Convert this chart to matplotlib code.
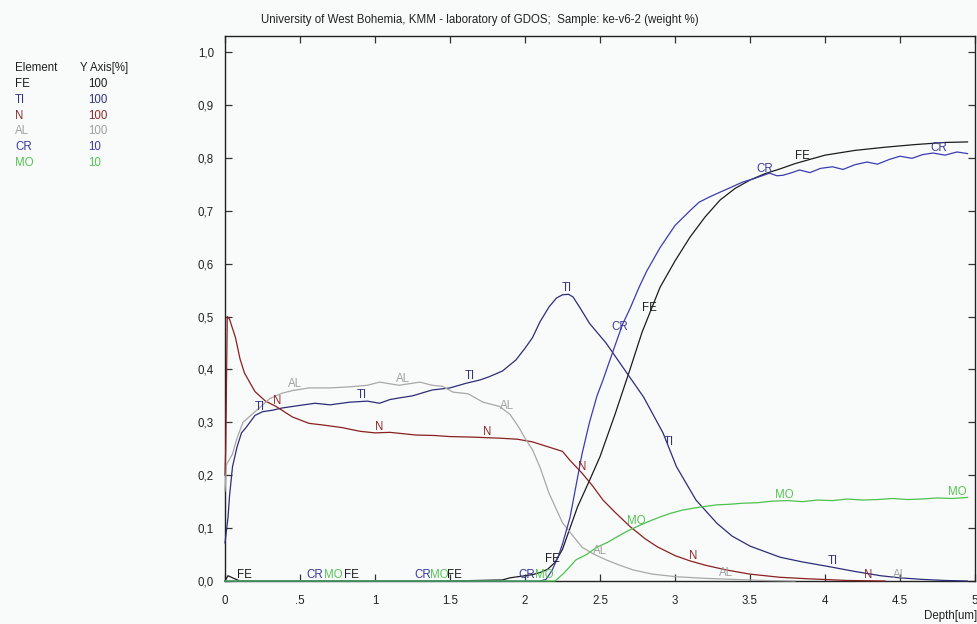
import numpy as np
import matplotlib
matplotlib.use("Agg")
import matplotlib.pyplot as plt

plt.rcParams['font.family'] = ['Liberation Sans', 'DejaVu Sans']

# ---------------- data ----------------
title = "University of West Bohemia, KMM - laboratory of GDOS;  Sample: ke-v6-2 (weight %)"
elements = ["FE", "TI", "N", "AL", "CR", "MO"]
yaxis_pct = ["100", "100", "100", "100", "10", "10"]

fe_x = [0, 0.02, 0.05, 0.1, 0.5, 1.0, 1.5, 1.85, 1.9, 2.0, 2.05, 2.1, 2.15, 2.2, 2.25, 2.3, 2.35, 2.43,
        2.5, 2.6, 2.7, 2.78, 2.9, 3.0, 3.1, 3.2, 3.3, 3.4, 3.5, 3.6, 3.7, 3.8, 3.9, 4.0, 4.2, 4.4,
        4.6, 4.8, 4.95]
fe_y = [0, 0.01, 0.006, 0, 0, 0, 0, 0.002, 0.006, 0.01, 0.012, 0.016, 0.022, 0.035, 0.06, 0.10, 0.14,
        0.19, 0.235, 0.315, 0.40, 0.47, 0.555, 0.605, 0.65, 0.688, 0.72, 0.742, 0.758, 0.77, 0.779,
        0.789, 0.797, 0.805, 0.814, 0.82, 0.825, 0.829, 0.830]

ti_x = [0, 0.02, 0.03, 0.05, 0.08, 0.11, 0.14, 0.2, 0.25, 0.32, 0.38, 0.5, 0.6, 0.7, 0.83, 0.95, 1.03,
        1.1, 1.16, 1.25, 1.38, 1.5, 1.61, 1.7, 1.76, 1.85, 1.94, 2.0, 2.05, 2.1, 2.16, 2.21, 2.25,
        2.29, 2.32, 2.37, 2.43, 2.54, 2.65, 2.79, 2.92, 3.01, 3.14, 3.28, 3.38, 3.5, 3.7, 3.85, 4.03,
        4.2, 4.37, 4.5, 4.65, 4.8, 4.95]
ti_y = [0.072, 0.12, 0.16, 0.216, 0.253, 0.28, 0.29, 0.313, 0.32, 0.323, 0.327, 0.332, 0.336, 0.333,
        0.338, 0.34, 0.336, 0.343, 0.346, 0.35, 0.361, 0.365, 0.374, 0.38, 0.386, 0.397, 0.418, 0.44,
        0.46, 0.49, 0.518, 0.535, 0.541, 0.542, 0.537, 0.515, 0.487, 0.45, 0.405, 0.348, 0.28, 0.216,
        0.153, 0.109, 0.085, 0.066, 0.045, 0.036, 0.027, 0.018, 0.01, 0.006, 0.003, 0.001, 0.0]

n_x = [0, 0.005, 0.015, 0.03, 0.07, 0.1, 0.13, 0.2, 0.27, 0.34, 0.45, 0.56, 0.65, 0.78, 0.9, 1.0, 1.1,
       1.27, 1.4, 1.5, 1.65, 1.83, 1.95, 2.05, 2.15, 2.25, 2.3, 2.38, 2.45, 2.52, 2.6, 2.7, 2.8, 2.88,
       3.0, 3.1, 3.2, 3.34, 3.5, 3.7, 3.9, 4.15, 4.4]
n_y = [0.2, 0.25, 0.5, 0.495, 0.46, 0.42, 0.393, 0.358, 0.34, 0.33, 0.31, 0.298, 0.295, 0.29, 0.283,
       0.28, 0.281, 0.276, 0.275, 0.273, 0.272, 0.27, 0.268, 0.263, 0.254, 0.245, 0.228, 0.204, 0.18,
       0.153, 0.13, 0.103, 0.08, 0.065, 0.048, 0.038, 0.03, 0.021, 0.013, 0.007, 0.004, 0.001, 0.0]

al_x = [0, 0.01, 0.03, 0.05, 0.08, 0.12, 0.2, 0.3, 0.38, 0.45, 0.56, 0.7, 0.83, 0.95, 1.03, 1.16, 1.3,
        1.38, 1.45, 1.52, 1.62, 1.72, 1.83, 1.9, 1.96, 2.0, 2.05, 2.1, 2.16, 2.25, 2.32, 2.38, 2.45,
        2.54, 2.63, 2.72, 2.85, 3.01, 3.2, 3.4, 3.6, 3.8]
al_y = [0.17, 0.22, 0.23, 0.24, 0.27, 0.3, 0.32, 0.345, 0.355, 0.36, 0.365, 0.365, 0.367, 0.37, 0.376,
        0.37, 0.376, 0.37, 0.368, 0.357, 0.354, 0.338, 0.33, 0.315, 0.29, 0.27, 0.248, 0.215, 0.166,
        0.11, 0.085, 0.064, 0.052, 0.04, 0.03, 0.021, 0.013, 0.008, 0.005, 0.003, 0.001, 0.0]

cr_x = [0, 2.1, 2.14, 2.18, 2.22, 2.25, 2.3, 2.34, 2.38, 2.43, 2.48, 2.52, 2.59, 2.65, 2.70, 2.76,
        2.81, 2.9, 3.0, 3.1, 3.16, 3.23, 3.3, 3.38, 3.45, 3.52, 3.58, 3.63, 3.68, 3.72, 3.78, 3.83,
        3.9, 3.97, 4.05, 4.12, 4.2, 4.28, 4.35, 4.43, 4.5, 4.58, 4.65, 4.72, 4.8, 4.88, 4.95]
cr_y = [0, 0, 0.003, 0.02, 0.045, 0.07, 0.12, 0.18, 0.24, 0.30, 0.35, 0.38, 0.437, 0.485, 0.515, 0.555,
        0.585, 0.63, 0.672, 0.70, 0.716, 0.726, 0.735, 0.745, 0.754, 0.76, 0.766, 0.771, 0.766, 0.767,
        0.772, 0.777, 0.772, 0.78, 0.783, 0.778, 0.787, 0.792, 0.788, 0.797, 0.803, 0.799, 0.806,
        0.809, 0.805, 0.811, 0.808]

mo_x = [0, 2.2, 2.26, 2.34, 2.41, 2.48, 2.55, 2.61, 2.68, 2.74, 2.82, 2.9, 2.97, 3.05, 3.15, 3.28,
        3.36, 3.45, 3.55, 3.65, 3.75, 3.85, 3.95, 4.05, 4.15, 4.25, 4.35, 4.45, 4.55, 4.65, 4.75,
        4.85, 4.95]
mo_y = [0, 0, 0.015, 0.04, 0.05, 0.064, 0.073, 0.083, 0.094, 0.102, 0.112, 0.121, 0.128, 0.134,
        0.139, 0.144, 0.145, 0.147, 0.148, 0.151, 0.152, 0.15, 0.153, 0.152, 0.155, 0.153, 0.154,
        0.156, 0.154, 0.155, 0.157, 0.156, 0.158]

# x positions of the in-plot curve labels
fe_lab = [0.13, 0.84, 1.53, 2.18, 2.83, 3.85]
ti_lab = [0.23, 0.91, 1.63, 2.28, 2.96, 4.05]
n_lab = [0.35, 1.03, 1.75, 2.38, 3.12, 4.29]
al_lab = [0.47, 1.19, 1.88, 2.5, 3.34, 4.5]
cr_lab = [0.60, 1.32, 2.01, 2.63, 3.60, 4.76]
mo_lab = [0.72, 1.43, 2.13, 2.74, 3.73, 4.88]

xticks = [0, 0.5, 1, 1.5, 2, 2.5, 3, 3.5, 4, 4.5, 5]
xticklabels = ["0", ".5", "1", "1.5", "2", "2.5", "3", "3.5", "4", "4.5", "5"]
yticks = [0, 0.1, 0.2, 0.3, 0.4, 0.5, 0.6, 0.7, 0.8, 0.9, 1.0]
yticklabels = ["0,0", "0,1", "0,2", "0,3", "0,4", "0,5", "0,6", "0,7", "0,8", "0,9", "1,0"]

# ---------------- style ----------------
line_colors = {"FE": "#1c1c1c", "TI": "#2d2d78", "N": "#8a2020", "AL": "#a8a8a8",
               "CR": "#3c3cb0", "MO": "#4cc24c"}
text_colors = {"FE": "#1c1c1c", "TI": "#33337f", "N": "#8a2a2a", "AL": "#a0a0a0",
               "CR": "#3a3aa0", "MO": "#55c455"}
bg = "#f9fafa"
fs = 8.3

W, H = 977, 624
fig = plt.figure(figsize=(W / 100, H / 100), dpi=100, facecolor=bg)
ax = fig.add_axes([225 / W, 1 - 581 / H, 750 / W, (581 - 36) / H], facecolor=bg)

series = [("FE", fe_x, fe_y, fe_lab), ("TI", ti_x, ti_y, ti_lab), ("N", n_x, n_y, n_lab),
          ("AL", al_x, al_y, al_lab), ("CR", cr_x, cr_y, cr_lab), ("MO", mo_x, mo_y, mo_lab)]

for name, xs, ys, labs in series:
    ax.plot(xs, ys, color=line_colors[name], lw=0.9, solid_joinstyle='round', clip_on=False, zorder=3)

for name, xs, ys, labs in series:
    for lx in labs:
        ly = float(np.interp(lx, xs, ys))
        ax.annotate(name, (lx, ly), xytext=(0, 0), textcoords='offset points',
                    ha='center', va='bottom', fontsize=fs, color=text_colors[name], zorder=4)

ax.set_xlim(0, 5)
ax.set_ylim(0, (581 - 36) / 529)
ax.set_xticks(xticks)
ax.set_xticklabels(xticklabels)
ax.set_yticks(yticks)
ax.set_yticklabels(yticklabels)
ax.tick_params(axis='both', direction='in', length=5, width=0.9, color='#333333',
               labelsize=fs, labelcolor='#222222', top=True, right=True)
ax.tick_params(axis='x', pad=10)
ax.tick_params(axis='y', pad=8)
for s in ax.spines.values():
    s.set_color('#222222')
    s.set_linewidth(1.0)

fig.text(480 / W, 1 - 20 / H, title, ha='center', va='center', fontsize=fs, color='#222222')
fig.text(977 / W, 1 - 616 / H, "Depth[um]", ha='right', va='center', fontsize=fs, color='#222222')

# left legend table
fig.text(15 / W, 1 - 68 / H, "Element", ha='left', va='center', fontsize=fs, color='#222222')
fig.text(80 / W, 1 - 68 / H, "Y Axis[%]", ha='left', va='center', fontsize=fs, color='#222222')
for i, (el, pct) in enumerate(zip(elements, yaxis_pct)):
    yy = 1 - (84 + i * 15.8) / H
    fig.text(15 / W, yy, el, ha='left', va='center', fontsize=fs, color=text_colors[el])
    fig.text(88 / W, yy, pct, ha='left', va='center', fontsize=fs, color=text_colors[el])

fig.savefig("out.png", dpi=100, facecolor=bg)
